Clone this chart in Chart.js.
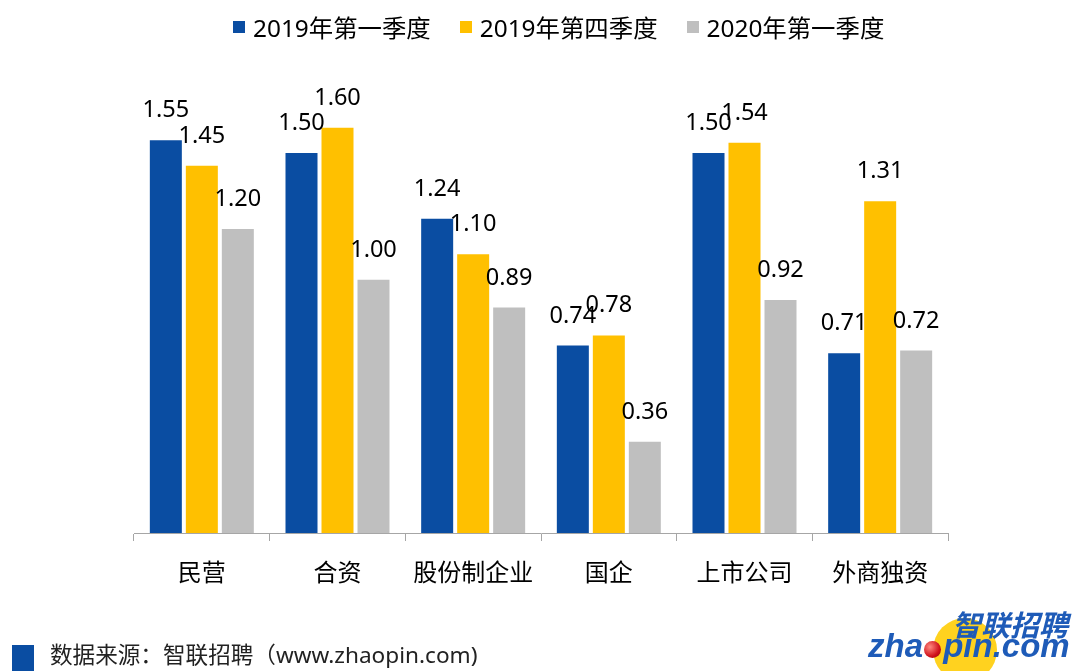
<!DOCTYPE html>
<html><head><meta charset="utf-8">
<script src="https://cdn.jsdelivr.net/npm/chart.js@4/dist/chart.umd.min.js"></script>
<style>
html,body{margin:0;padding:0;background:#fff;overflow:hidden;}
#wrap{position:relative;width:1075px;height:671px;font-family:"Noto Sans","Noto Sans CJK SC",sans-serif;}
#c{position:absolute;left:0;top:0;}
.legend{position:absolute;top:9px;left:233px;display:flex;align-items:center;font-size:24.4px;color:#000;white-space:nowrap;}
.legend .it{display:flex;align-items:center;margin-right:29px;}
.legend .sw{width:12px;height:12px;margin-right:8px;}
.foot{position:absolute;left:12px;top:643px;height:28px;white-space:nowrap;}
.foot .sq{position:absolute;left:0;top:2px;width:22px;height:28px;background:#0A4DA2;}
.foot .tx{position:absolute;left:38px;top:-3px;font-size:22.6px;line-height:30px;color:#222;}
.logo{position:absolute;left:860px;top:600px;width:215px;height:71px;overflow:hidden;white-space:nowrap;}
.logo .sun{position:absolute;left:73px;top:18px;width:64px;height:64px;border-radius:50%;background:#FFD21F;}
.logo .cn{position:absolute;left:92px;top:9px;font-size:29px;line-height:29px;font-weight:bold;font-style:italic;color:#1E5BB8;font-family:"Noto Sans CJK SC",sans-serif;}
.logo .en{position:absolute;left:8px;top:29px;font-size:33px;line-height:33px;font-weight:bold;font-style:italic;color:#1E5BB8;font-family:"Liberation Sans",sans-serif;}
.logo .ball{position:absolute;left:64px;top:41px;width:17px;height:17px;border-radius:50%;background:radial-gradient(circle at 35% 35%,#ff8a80,#d0121b 60%,#8a0008);}
</style></head>
<body><div id="wrap">
<canvas id="c" width="1075" height="671"></canvas>
<div class="legend" id="legend"></div>
<div class="foot"><div class="sq"></div><div class="tx">数据来源：智联招聘（www.zhaopin.com)</div></div>
<div class="logo"><div class="sun"></div><div class="cn">智联招聘</div><div class="en">zha<span style="color:transparent">o</span>pin.com</div><div class="ball"></div></div>
</div>
<script>
const categories = ["民营","合资","股份制企业","国企","上市公司","外商独资"];
const seriesNames = ["2019年第一季度","2019年第四季度","2020年第一季度"];
const q1_2019 = [1.55,1.50,1.24,0.74,1.50,0.71];
const q4_2019 = [1.45,1.60,1.10,0.78,1.54,1.31];
const q1_2020 = [1.20,1.00,0.89,0.36,0.92,0.72];
const colors = ["#0A4DA2","#FFC000","#BFBFBF"];

const FONT = '"Noto Sans","Noto Sans CJK SC",sans-serif';

const lg = document.getElementById('legend');
seriesNames.forEach((n,i)=>{
  const d=document.createElement('div');d.className='it';
  d.innerHTML='<div class="sw" style="background:'+colors[i]+'"></div><span>'+n+'</span>';
  lg.appendChild(d);
});

const valueLabels = {
  id:'valueLabels',
  afterDatasetsDraw(chart){
    const ctx=chart.ctx;
    ctx.save();
    ctx.font='23.5px '+FONT;
    ctx.fillStyle='#000';
    ctx.textAlign='center';
    ctx.textBaseline='alphabetic';
    chart.data.datasets.forEach((ds,di)=>{
      chart.getDatasetMeta(di).data.forEach((bar,i)=>{
        ctx.fillText(ds.data[i].toFixed(2), bar.x, bar.y-23);
      });
    });
    ctx.restore();
  }
};

new Chart(document.getElementById('c'),{
  type:'bar',
  data:{
    labels:categories,
    datasets:[
      {label:seriesNames[0],data:q1_2019,backgroundColor:colors[0]},
      {label:seriesNames[1],data:q4_2019,backgroundColor:colors[1]},
      {label:seriesNames[2],data:q1_2020,backgroundColor:colors[2]}
    ]
  },
  options:{
    responsive:false,animation:false,
    devicePixelRatio:1,
    layout:{padding:{left:134,right:127,top:77,bottom:78}},
    categoryPercentage:0.796,
    barPercentage:0.889,
    plugins:{legend:{display:false},tooltip:{enabled:false}},
    scales:{
      y:{display:false,min:0,max:1.8},
      x:{
        afterFit(s){s.height=60;},
        grid:{display:true,drawOnChartArea:false,drawTicks:true,tickLength:8,color:'#A6A6A6',offset:true},
        border:{display:true,color:'#A6A6A6',width:1},
        ticks:{color:'#000',font:{family:FONT,size:24},padding:19}
      }
    }
  },
  plugins:[valueLabels]
});
</script>
</body></html>
